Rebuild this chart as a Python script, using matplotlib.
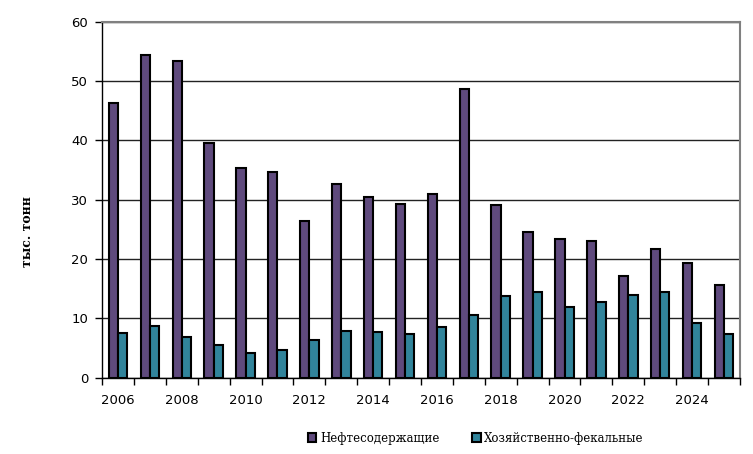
import numpy as np
import matplotlib
matplotlib.use("Agg")
import matplotlib.pyplot as plt
import matplotlib.ticker as ticker

# ── Data ──────────────────────────────────────────────────────────────
YEARS = list(range(2006, 2026))
OIL = [46.3, 54.4, 53.4, 39.6, 35.4, 34.7, 26.4, 32.7, 30.5, 29.3,
       31.0, 48.7, 29.1, 24.6, 23.4, 23.1, 17.2, 21.7, 19.3, 15.6]
SEWAGE = [7.5, 8.7, 6.9, 5.5, 4.2, 4.7, 6.3, 7.8, 7.65, 7.4,
          8.55, 10.5, 13.7, 14.45, 11.9, 12.8, 13.95, 14.45, 9.2, 7.4]
LABELS = ["Нефтесодержащие", "Хозяйственно-фекальные"]

C_OIL = "#5F4A7D"
C_SEW = "#31849B"

fig = plt.figure(figsize=(7.53, 4.54), dpi=100)
ax = fig.add_axes([0.1355, 0.168, 0.8472, 0.7838])

x = np.arange(len(YEARS))
w = 0.29
ax.bar(x - w / 2, OIL, w, color=C_OIL, edgecolor="black", linewidth=1.5,
       label=LABELS[0], zorder=3)
ax.bar(x + w / 2, SEWAGE, w, color=C_SEW, edgecolor="black", linewidth=1.5,
       label=LABELS[1], zorder=3)

ax.set_xlim(-0.5, len(YEARS) - 0.5)
ax.set_ylim(0, 60)
ax.yaxis.set_major_locator(ticker.MultipleLocator(10))
ax.yaxis.grid(True, color="#222222", linewidth=1.0, zorder=0)
ax.set_axisbelow(True)

# category ticks between groups, labels every other year
ax.set_xticks(np.arange(-0.5, len(YEARS), 1.0))
ax.set_xticklabels([])
ax.set_xticks(x[::2], minor=True)
ax.set_xticklabels([str(y) for y in YEARS[::2]], minor=True)
ax.tick_params(axis="x", which="major", direction="out", length=5,
               width=1.0, color="black")
ax.tick_params(axis="x", which="minor", length=0, pad=12, labelsize=9.5)
ax.tick_params(axis="y", direction="out", length=5, width=1.0,
               labelsize=9.5, pad=5)

for side in ("left", "bottom"):
    ax.spines[side].set_color("black")
    ax.spines[side].set_linewidth(1.0)
for side in ("top", "right"):
    ax.spines[side].set_color("#808080")
    ax.spines[side].set_linewidth(1.5)

fig.text(0.036, 0.491, "тыс. тонн", rotation=90, ha="center", va="center",
         family="DejaVu Serif", fontweight="bold", fontsize=9)

leg = fig.legend(loc="center", bbox_to_anchor=(0.632, 0.035), ncol=2,
                 frameon=False, prop={"family": "DejaVu Serif", "size": 8.5},
                 handlelength=0.7, handleheight=0.7, handletextpad=0.3,
                 columnspacing=2.8)

fig.savefig("out.png", dpi=100)
